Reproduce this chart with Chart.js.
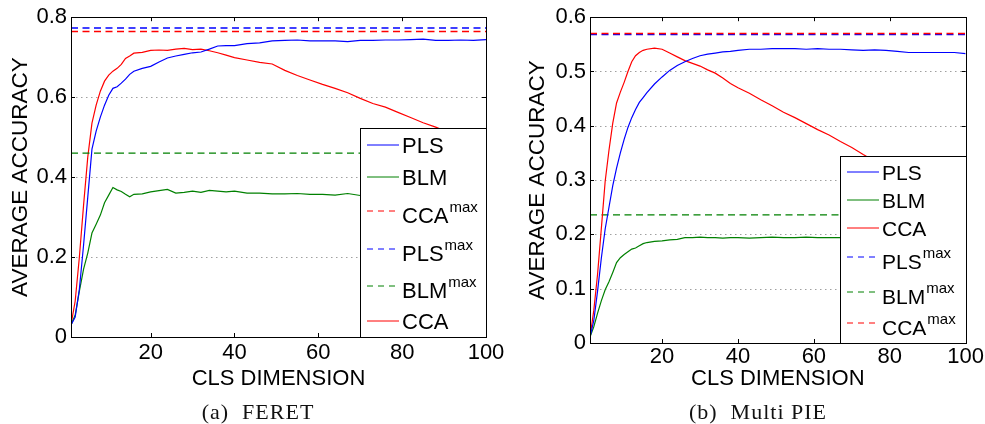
<!DOCTYPE html>
<html>
<head>
<meta charset="utf-8">
<title>Average accuracy vs CLS dimension</title>
<script src="https://cdn.jsdelivr.net/npm/chart.js@4.4.1/dist/chart.umd.min.js"></script>
<style>
  body { margin: 0; background: #fff; width: 985px; height: 424px; position: relative; overflow: hidden; }
  canvas { position: absolute; left: 0; top: 0; }
  .cap { position: absolute; transform: translate(-50%, -50%); white-space: nowrap;
         font-family: "Liberation Serif", "Times New Roman", serif; font-size: 22px; letter-spacing: 1px; color: #111; }
</style>
</head>
<body>
<canvas id="feretChart" width="985" height="424"></canvas>
<canvas id="pieChart" width="985" height="424"></canvas>
<div class="cap" style="left:258px; top:412px;">(a)&nbsp; FERET</div>
<div class="cap" style="left:758px; top:412px;">(b)&nbsp; Multi PIE</div>

<script>
// ---- data ----
const dims = [1, 2, 3, 4, 5, 6, 7, 8, 9, 10, 11, 12, 13, 14, 15, 16,
              18, 20, 22, 24, 26, 28, 30, 32, 34, 36, 38, 40,
              43, 46, 49, 52, 55, 58, 61, 64, 67, 70, 73, 76, 79, 82, 85, 88, 91, 94, 97, 100];

// (a) FERET
const feretPLS = [0.03, 0.05, 0.12, 0.23, 0.35, 0.47, 0.515, 0.55, 0.58, 0.605, 0.622, 0.626, 0.635, 0.645, 0.657, 0.665,
                  0.672, 0.677, 0.688, 0.698, 0.703, 0.707, 0.711, 0.713, 0.72, 0.728, 0.729, 0.729,
                  0.734, 0.736, 0.741, 0.742, 0.743, 0.741, 0.741, 0.741, 0.739, 0.742, 0.742, 0.743, 0.743, 0.744, 0.745, 0.742, 0.742, 0.743, 0.742, 0.744];
const feretBLM = [0.03, 0.055, 0.115, 0.17, 0.21, 0.26, 0.282, 0.305, 0.336, 0.355, 0.374, 0.368, 0.364, 0.357, 0.351, 0.357,
                  0.358, 0.363, 0.366, 0.369, 0.36, 0.362, 0.365, 0.362, 0.367, 0.365, 0.363, 0.365,
                  0.36, 0.36, 0.358, 0.358, 0.359, 0.357, 0.357, 0.355, 0.359, 0.354, 0.356, 0.356, 0.357, 0.355, 0.356, 0.356, 0.357, 0.356, 0.355, 0.356];
const feretCCA = [0.03, 0.09, 0.2, 0.33, 0.45, 0.535, 0.58, 0.615, 0.64, 0.655, 0.665, 0.672, 0.682, 0.697, 0.703, 0.71,
                  0.712, 0.717, 0.718, 0.717, 0.72, 0.722, 0.719, 0.72, 0.716, 0.711, 0.705, 0.699,
                  0.693, 0.687, 0.683, 0.667, 0.654, 0.643, 0.632, 0.622, 0.611, 0.597, 0.584, 0.575, 0.562, 0.549, 0.536, 0.525, 0.512, 0.5, 0.488, 0.476];
const feretMax = [0.773, 0.46, 0.764];   // PLS, BLM, CCA

// (b) Multi PIE
const piePLS = [0.011, 0.041, 0.096, 0.157, 0.21, 0.25, 0.29, 0.322, 0.35, 0.375, 0.397, 0.415, 0.43, 0.443, 0.452, 0.461,
                0.477, 0.49, 0.502, 0.511, 0.518, 0.524, 0.529, 0.532, 0.534, 0.536, 0.537, 0.539,
                0.541, 0.541, 0.542, 0.542, 0.542, 0.541, 0.542, 0.541, 0.541, 0.54, 0.539, 0.54, 0.539, 0.537, 0.535, 0.535, 0.535, 0.535, 0.535, 0.533];
const pieBLM = [0.011, 0.03, 0.055, 0.078, 0.098, 0.113, 0.13, 0.148, 0.157, 0.163, 0.168, 0.173, 0.175, 0.179, 0.183, 0.185,
                0.187, 0.188, 0.19, 0.191, 0.194, 0.194, 0.195, 0.194, 0.194, 0.193, 0.194, 0.194,
                0.193, 0.194, 0.195, 0.194, 0.194, 0.195, 0.194, 0.194, 0.194, 0.194, 0.194, 0.194, 0.194, 0.194, 0.194, 0.194, 0.194, 0.194, 0.194, 0.194];
const pieCCA = [0.011, 0.06, 0.127, 0.212, 0.298, 0.355, 0.405, 0.442, 0.462, 0.48, 0.5, 0.518, 0.529, 0.535, 0.539, 0.541,
                0.543, 0.541, 0.534, 0.527, 0.52, 0.515, 0.51, 0.503, 0.497, 0.488, 0.478, 0.47,
                0.46, 0.448, 0.437, 0.425, 0.415, 0.404, 0.393, 0.383, 0.371, 0.36, 0.347, 0.335, 0.324, 0.313, 0.302, 0.291, 0.28, 0.27, 0.26, 0.25];
const pieMax = [0.568, 0.236, 0.570];   // PLS, BLM, CCA

const xTicks = [20, 40, 60, 80, 100];
const feretYTicks = [0, 0.2, 0.4, 0.6, 0.8];
const pieYTicks = [0, 0.1, 0.2, 0.3, 0.4, 0.5, 0.6];

const BLUE = '#0000ff', GREEN = '#008000', RED = '#ff0000';
const SANS = '"Liberation Sans", Arial, Helvetica, sans-serif';

// ---- dataset helpers ----
function curve(label, ys, color) {
    return {
        label: label,
        data: dims.map((x, i) => ({ x: x, y: ys[i] })),
        borderColor: color, borderWidth: 1.2, pointRadius: 0, fill: false
    };
}

function maxLine(label, v, color, width) {
    return {
        label: label, sup: 'max',
        data: [{ x: dims[0], y: v }, { x: dims[dims.length - 1], y: v }],
        borderColor: color, borderWidth: width, borderDash: [7, 4.5], pointRadius: 0, fill: false
    };
}

// ---- dotted grid, box with inward ticks, matlab style legend ----
const matlabAxes = {
    id: 'matlabAxes',
    beforeDatasetsDraw(chart) {
        const { ctx, chartArea: a } = chart;
        const ys = chart.scales.y;
        ctx.save();
        ctx.strokeStyle = '#a0a0a0';
        ctx.lineWidth = 1;
        ctx.setLineDash([1.5, 3.5]);
        ys.ticks.forEach(t => {
            const py = Math.round(ys.getPixelForValue(t.value)) + 0.5;
            if (py <= a.top + 1 || py >= a.bottom - 1) return;
            ctx.beginPath(); ctx.moveTo(a.left, py); ctx.lineTo(a.right, py); ctx.stroke();
        });
        ctx.restore();
    },
    afterDatasetsDraw(chart, args, opts) {
        const { ctx, chartArea: a } = chart;
        const xs = chart.scales.x, ys = chart.scales.y;
        ctx.save();
        ctx.strokeStyle = '#000';
        ctx.lineWidth = 1;
        ctx.setLineDash([]);
        ctx.beginPath();
        xs.ticks.forEach(t => {
            const px = Math.round(xs.getPixelForValue(t.value)) + 0.5;
            ctx.moveTo(px, a.bottom); ctx.lineTo(px, a.bottom - 4);
            ctx.moveTo(px, a.top); ctx.lineTo(px, a.top + 4);
        });
        ys.ticks.forEach(t => {
            const py = Math.round(ys.getPixelForValue(t.value)) + 0.5;
            ctx.moveTo(a.left, py); ctx.lineTo(a.left + 4, py);
            ctx.moveTo(a.right, py); ctx.lineTo(a.right - 4, py);
        });
        ctx.stroke();
        ctx.strokeRect(Math.round(a.left) + 0.5, Math.round(a.top) + 0.5,
                       Math.round(a.right - a.left), Math.round(a.bottom - a.top));

        // legend
        const L = opts.box;
        ctx.fillStyle = '#fff';
        ctx.fillRect(L[0], L[1], L[2] - L[0], L[3] - L[1]);
        ctx.strokeRect(L[0] + 0.5, L[1] + 0.5, L[2] - L[0], L[3] - L[1]);
        chart.data.datasets.forEach((ds, r) => {
            const ly = Math.round(L[1] + opts.rows[r]);
            ctx.strokeStyle = ds.borderColor;
            ctx.lineWidth = 1;
            ctx.setLineDash(ds.borderDash ? [6, 5] : []);
            ctx.beginPath(); ctx.moveTo(L[0] + 7, ly); ctx.lineTo(L[0] + 39, ly); ctx.stroke();
            ctx.setLineDash([]);
            const base = ly + (ds.sup ? 4 : 0) + 0.36 * opts.size;
            ctx.fillStyle = '#000';
            ctx.textAlign = 'left';
            ctx.textBaseline = 'alphabetic';
            ctx.font = opts.size + 'px ' + SANS;
            ctx.fillText(ds.label, L[0] + 42, base);
            if (ds.sup) {
                const w = ctx.measureText(ds.label).width;
                ctx.font = Math.round(opts.size * 0.7) + 'px ' + SANS;
                ctx.fillText(ds.sup, L[0] + 42 + w + 1, base - 0.5 * opts.size);
            }
        });
        ctx.restore();
    }
};

// ---- chart builder ----
function makeChart(id, datasets, yMax, yTicks, lay) {
    return new Chart(document.getElementById(id), {
        type: 'line',
        data: { datasets: datasets },
        options: {
            responsive: false,
            devicePixelRatio: 1,
            animation: false,
            events: [],
            layout: { padding: lay.pad },
            plugins: {
                legend: { display: false },
                tooltip: { enabled: false },
                matlabAxes: lay.legend
            },
            scales: {
                x: {
                    type: 'linear', min: 1, max: 100,
                    afterBuildTicks: s => { s.ticks = xTicks.map(v => ({ value: v })); },
                    afterFit: s => { s.height = lay.xHeight; },
                    grid: { display: false, drawTicks: false },
                    border: { display: false },
                    ticks: { color: '#000', font: { family: SANS, size: 22 }, padding: lay.xPad,
                             maxRotation: 0, autoSkip: false, callback: v => String(v) },
                    title: { display: true, text: 'CLS DIMENSION', color: '#000',
                             font: { family: SANS, size: 22 }, padding: 0 }
                },
                y: {
                    type: 'linear', min: 0, max: yMax,
                    afterBuildTicks: s => { s.ticks = yTicks.map(v => ({ value: v })); },
                    afterFit: s => { s.width = lay.yWidth; },
                    grid: { display: false, drawTicks: false },
                    border: { display: false },
                    ticks: { color: '#000', font: { family: SANS, size: 22 }, padding: 4,
                             autoSkip: false, callback: v => String(v) },
                    title: { display: true, text: 'AVERAGE ACCURACY', color: '#000',
                             font: { family: SANS, size: 22.5 }, padding: 0 }
                }
            }
        },
        plugins: [matlabAxes]
    });
}

// (a) FERET : legend order PLS, BLM, CCAmax, PLSmax, BLMmax, CCA
makeChart('feretChart', [
    curve('PLS', feretPLS, BLUE),
    curve('BLM', feretBLM, GREEN),
    maxLine('CCA', feretMax[2], RED, 1.5),
    maxLine('PLS', feretMax[0], BLUE, 1.5),
    maxLine('BLM', feretMax[1], GREEN, 1.2),
    curve('CCA', feretCCA, RED)
], 0.8, feretYTicks, {
    pad: { left: 7, top: 16, right: 499, bottom: 32 },
    yWidth: 64, xHeight: 55, xPad: 3,
    legend: { box: [360, 128, 486, 337], rows: [17, 49, 83, 120.5, 158, 193], size: 22 }
});

// (b) Multi PIE : legend order PLS, BLM, CCA, PLSmax, BLMmax, CCAmax
const pieSets = [
    curve('PLS', piePLS, BLUE),
    curve('BLM', pieBLM, GREEN),
    curve('CCA', pieCCA, RED),
    maxLine('PLS', pieMax[0], BLUE, 1.3),
    maxLine('BLM', pieMax[1], GREEN, 1.2),
    maxLine('CCA', pieMax[2], RED, 1.5)
];
pieSets[5].order = -1;   // red max line sits on top of the blue one
makeChart('pieChart', pieSets, 0.6, pieYTicks, {
    pad: { left: 524, top: 16, right: 19, bottom: 32 },
    yWidth: 66, xHeight: 49, xPad: 1,
    legend: { box: [840, 156, 966, 343], rows: [16, 43.5, 72, 101, 136, 166.5], size: 21 }
});
</script>
</body>
</html>
